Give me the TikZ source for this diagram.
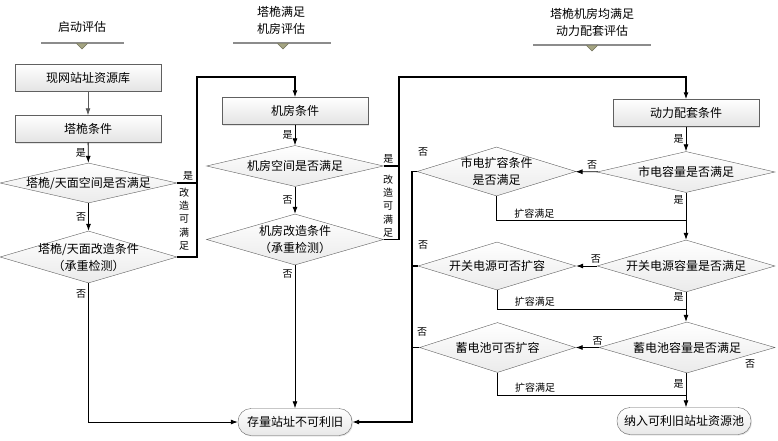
\documentclass[tikz,border=0pt]{standalone}
\usepackage{fontspec}
\setmainfont{Noto Sans CJK SC}
\usetikzlibrary{arrows.meta,positioning,shapes.geometric,shadows}
\definecolor{hdline}{RGB}{140,140,140}
\definecolor{hdtri}{RGB}{165,165,130}

\begin{document}
\begin{tikzpicture}[x=1pt,y=-1pt, font=\fontsize{12}{17}\selectfont,
  box/.style={draw=gray!75!black,top color=white,bottom color=gray!22,minimum width=146pt,minimum height=27pt,inner sep=0pt,drop shadow={shadow xshift=1pt,shadow yshift=-1pt,fill=gray!40}},
  dia/.style 2 args={diamond,draw=gray!75!black,top color=white,bottom color=gray!16,inner sep=0pt,minimum width=#1,minimum height=#2},
  term/.style={draw=gray!75!black,rounded corners=13pt,top color=white,bottom color=gray!18,minimum width=#1,minimum height=27pt,inner sep=0pt,drop shadow={shadow xshift=1pt,shadow yshift=-1pt,fill=gray!40}},
  hd/.style={align=center,inner sep=0pt},
  lbl/.style={font=\fontsize{10}{13}\selectfont,inner sep=2pt,align=center},
  arr/.style={-{Latex[length=7pt,width=5pt]},line width=0.8pt},
  loop/.style={line width=1.1pt}]
\useasboundingbox (0,0) rectangle (778,441);
% stage headings
\node[hd] (hstart) at (82,27) {启动评估};
\node[hd] (hroom) at (281,20) {塔桅满足\\机房评估};
\node[hd] (hpower) at (592,22) {塔桅机房均满足\\动力配套评估};
\foreach \xl/\xr/\xm/\yr in {41/124/82/43, 233/331/283/43, 533/651/592/45}{
  \draw[hdline,line width=1.5pt] (\xl,\yr) -- (\xr,\yr);
  \filldraw[fill=hdtri,draw=hdtri!70!black,line width=0.4pt] (\xm-5.5,\yr+0.5) -- (\xm+5.5,\yr+0.5) -- (\xm,\yr+6) -- cycle;
}
% tower column
\node[box] (base) at (88,78) {现网站址资源库};
\node[box] (tower) at (88,129) {塔桅条件};
\node[dia={177pt}{40pt},label={center:塔桅/天面空间是否满足}] (tspace) at (88.5,183) {};
\node[dia={177pt}{52pt},label={[align=center]center:塔桅/天面改造条件\\（承重检测）}] (tmod) at (88.5,257) {};
% room column
\node[box] (room) at (295,111) {机房条件};
\node[dia={177pt}{41pt},label={center:机房空间是否满足}] (rspace) at (295,166) {};
\node[dia={177pt}{51pt},label={[align=center]center:机房改造条件\\（承重检测）}] (rmod) at (295,239.5) {};
\node[term=114pt] (fail) at (295,422) {存量站址不可利旧};
% power column
\node[box] (power) at (686,113) {动力配套条件};
\node[dia={178pt}{41pt},label={center:市电容量是否满足}] (mains) at (686,172) {};
\node[dia={159pt}{49pt},label={[align=center]center:市电扩容条件\\是否满足}] (mainsx) at (496.5,171.5) {};
\node[dia={178pt}{52pt},label={center:开关电源容量是否满足}] (psu) at (686,266) {};
\node[dia={158pt}{48pt},label={center:开关电源可否扩容}] (psux) at (497,266) {};
\node[dia={176pt}{51pt},label={center:蓄电池容量是否满足}] (bat) at (687,347.5) {};
\node[dia={156pt}{50pt},label={center:蓄电池可否扩容}] (batx) at (497.5,347.5) {};
\node[term=134pt] (pool) at (684,421) {纳入可利旧站址资源池};
\coordinate (tloop) at (197,77); \coordinate (rloop) at (399,77); \coordinate (fjoin) at (412,422);
\coordinate (mjoin) at (686,220.5); \coordinate (pjoin) at (686,309); \coordinate (bjoin) at (686,395);
% tower links
\draw[arr,gray!70!black] (base) -- (tower);
\draw[arr] (tower) -- node[lbl,left]{是} (tspace);
\draw[arr] (tspace) -- node[lbl,left]{否} (tmod);
\draw[arr,loop] (tspace.east) -- node[lbl,above,pos=0.55]{是} (tspace.east -| tloop) -- (tloop) -| (room.north);
\draw[loop] (tmod.east) -| (tspace.east -| tloop);
\node[lbl,font=\fontsize{10}{13.3}\selectfont] (tnote) at (184,219) {改\\造\\可\\满\\足};
\draw[arr] (tmod.south) |- node[lbl,left,pos=0.04]{否} (fail.west);
% room links
\draw[arr] (room) -- node[lbl,left]{是} (rspace);
\draw[arr] (rspace) -- node[lbl,left]{否} (rmod);
\draw[arr,loop] (rspace.east) -- node[lbl,above,pos=0.3]{是} (rspace.east -| rloop) -- (rloop) -| (power.north);
\draw[loop] (rmod.east) -| (rspace.east -| rloop);
\node[lbl,font=\fontsize{10}{13.3}\selectfont] (rnote) at (388,206) {改\\造\\可\\满\\足};
\draw[arr] (rmod) -- node[lbl,left,pos=0.06]{否} (fail);
% power links
\draw[arr] (power) -- node[lbl,left]{是} (mains);
\draw[arr] (mains) -- node[lbl,above,pos=0.25]{否} (mainsx);
\draw[arr] (mains) -- node[lbl,left,pos=0.15]{是} (psu);
\draw[arr,loop] (mainsx.west) -| (fjoin) -- (fail.east);
\node[lbl] (mno) at (423,152) {否};
\draw[line width=0.8pt] (mainsx.south) |- node[lbl,above,pos=0.6]{扩容满足} (mjoin);
\draw[arr] (psu) -- node[lbl,above,pos=0.05]{否} (psux);
\draw[arr] (psu) -- node[lbl,left,pos=0.17]{是} (bat.north -| psu);
\draw[loop] (psux.west) -- (psux.west -| fjoin);
\node[lbl] (pno) at (423,245) {否};
\draw[line width=0.8pt] (psux.south) |- node[lbl,above,pos=0.6]{扩容满足} (pjoin);
\draw[arr] (bat.west) -- node[lbl,above,pos=0.05]{否} (batx.east);
\draw[arr] (bat.south -| psu) -- node[lbl,left,pos=0.31]{是} (pool.north -| psu);
\draw[loop] (batx.west) -- (batx.west -| fjoin);
\node[lbl] (bno) at (422,332) {否};
\node[lbl] (bend) at (750,364) {否};
\draw[line width=0.8pt] (batx.south) |- node[lbl,above,pos=0.6]{扩容满足} (bjoin);
\end{tikzpicture}
\end{document}
